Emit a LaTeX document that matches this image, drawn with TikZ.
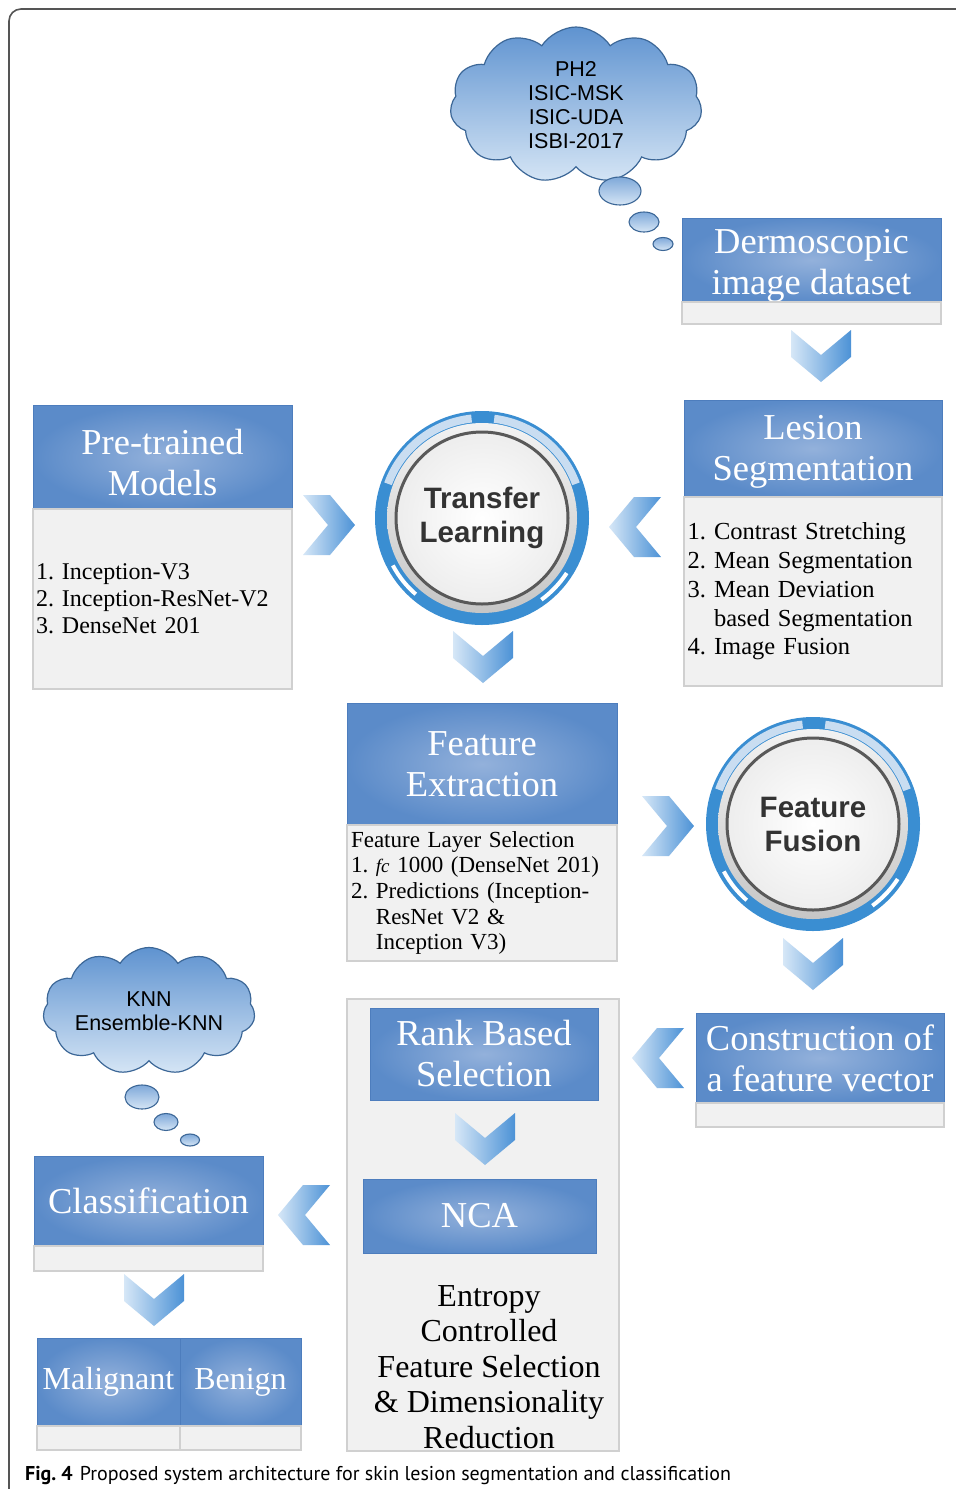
\documentclass[tikz,border=0pt]{standalone}
\usepackage{fontspec}
\setmainfont{Liberation Serif}
\setsansfont{Liberation Sans}
\newfontfamily\capfont{PT Sans}
\usetikzlibrary{positioning,shapes.symbols,calc}

\definecolor{hdrdark}{HTML}{5B8BC9}
\definecolor{hdrlight}{HTML}{93B1DB}
\definecolor{hdrline}{HTML}{4D7DBD}
\definecolor{bodyfill}{HTML}{F1F1F1}
\definecolor{bodyline}{HTML}{D0D0D0}
\definecolor{chlight}{HTML}{D6E7F7}
\definecolor{chdark}{HTML}{4C92D6}
\definecolor{ringblue}{HTML}{3A8ED2}
\definecolor{ringlight}{HTML}{C9DDF1}
\definecolor{cloudtop}{HTML}{5F93D0}
\definecolor{cloudbot}{HTML}{D5E5F5}
\definecolor{cloudline}{HTML}{3C6797}
\definecolor{framecol}{HTML}{555555}
\definecolor{disctext}{HTML}{333333}

% extra height on a header's first line, to lower its text
\newcommand{\hdrpad}[1]{\rule{0pt}{#1}}

\tikzset{
  hdr/.style={rectangle, draw=hdrline, line width=0.8pt, inner color=hdrlight, outer color=hdrdark,
    text=white, align=center, inner xsep=2pt, inner ysep=0pt, outer sep=0pt, anchor=north west,
    font=\fontsize{36.5}{41}\selectfont},
  body/.style={rectangle, draw=bodyline, line width=1.5pt, fill=bodyfill, outer sep=0pt,
    anchor=north west, align=left, inner ysep=0pt},
  disctxt/.style={circle, minimum size=172pt, align=center, text=disctext,
    font=\sffamily\bfseries\fontsize{29.5}{34}\selectfont},
  cloudtxt/.style={align=center, text=black, font=\sffamily\fontsize{21.5}{24}\selectfont},
  thought/.style={cloud, cloud puffs=11, cloud puff arc=115, draw=cloudline, line width=1.2pt,
    top color=cloudtop, bottom color=cloudbot, inner sep=0pt},
  bubble/.style={draw=cloudline, line width=1.1pt, top color=cloudtop!80, bottom color=cloudbot},
  chevdown/.pic={
    \shade[left color=chlight, right color=chdark]
      (-30,-26) -- (0,-1) -- (30,-26) -- (30,1) -- (0,26) -- (-30,1) -- cycle;
  },
  disc/.pic={
    \begin{scope}[yscale=-1]
      \fill[ringblue] (0,0) circle[radius=107];
      \foreach \a/\b in {96/160, 20/83}
        \fill[ringlight] (\a:104) arc[start angle=\a, end angle=\b, radius=104]
          -- (\b:96) arc[start angle=\b, end angle=\a, radius=96] -- cycle;
      \foreach \a/\b in {208/229, 306/327}
        \fill[white] (\a:103) arc[start angle=\a, end angle=\b, radius=103]
          -- (\b:99) arc[start angle=\b, end angle=\a, radius=99] -- cycle;
      \shade[top color=gray!10, bottom color=gray!45] (0,0) circle[radius=95];
      \shade[draw=gray!70!black, line width=3pt, inner color=white, outer color=gray!14]
        (0,0) circle[radius=86];
    \end{scope}
  }
}

\begin{document}
\frenchspacing
\begin{tikzpicture}[x=1pt, y=-1pt]
  \useasboundingbox (0,0) rectangle (956,1489);
  \fill[white] (0,0) rectangle (956,1489);
  % frame
  \draw[framecol, line width=1.6pt, rounded corners=12pt] (980,9) -- (9,9) -- (9,1510);

  % data sets cloud
  \node[thought, minimum width=252pt, minimum height=156pt] (dsc) at (576,105) {};
  \node[cloudtxt] (dsct) at (dsc.center) {PH2\\ISIC-MSK\\ISIC-UDA\\ISBI-2017};
  \shade[bubble] (620,191) ellipse[x radius=21, y radius=14];
  \shade[bubble] (644,222) ellipse[x radius=15, y radius=10];
  \shade[bubble] (663,244) ellipse[x radius=10, y radius=6.5];

  % dataset
  \node[hdr, minimum width=259pt, minimum height=82pt] (dsh) at (682,218) {\hdrpad{35pt}Dermoscopic\\image dataset};
  \node[body, minimum width=259pt, minimum height=22pt] (dsb) at (dsh.south west) {};

  % lesion segmentation
  \node[hdr, minimum width=258pt, minimum height=97pt] (lsh) at (684,400) {\hdrpad{31pt}Lesion\\Segmentation};
  \node[body, minimum width=258pt, minimum height=189pt, text width=251pt, inner xsep=3.5pt,
    font=\fontsize{24.5}{28.8}\selectfont] (lsb) at (lsh.south west)
    {1. Contrast Stretching\\2. Mean Segmentation\\3. Mean Deviation\\\phantom{3. }based Segmentation\\4. Image Fusion};

  % pre-trained models
  \node[hdr, minimum width=259pt, minimum height=104pt] (pmh) at (33,405) {\hdrpad{37pt}Pre-trained\\Models};
  \node[body, minimum width=259pt, minimum height=180pt, text width=253pt, inner xsep=3pt,
    font=\fontsize{24}{27}\selectfont] (pmb) at (pmh.south west)
    {1. Inception-V3\\2. Inception-ResNet-V2\\3. DenseNet 201};

  % transfer learning
  \pic at (482,518) {disc};
  \node[disctxt] (tl) at (482,518) {Transfer\\Learning};

  % feature extraction
  \node[hdr, minimum width=270pt, minimum height=122pt] (feh) at (347,703) {Feature\\Extraction};
  \node[body, minimum width=270pt, minimum height=136pt, text width=262pt, inner xsep=4pt,
    font=\fontsize{23}{25.7}\selectfont] (feb) at (feh.south west)
    {Feature Layer Selection\\1. \textit{\fontsize{19}{25.7}\selectfont fc} 1000 (DenseNet 201)\\2. Predictions (Inception-\\\phantom{2. }ResNet V2 \&\\\phantom{2. }Inception V3)};

  % feature fusion
  \pic at (813,824) {disc};
  \node[disctxt] (ff) at (813,824) {Feature\\Fusion};

  % feature vector
  \node[hdr, minimum width=248pt, minimum height=90pt] (cfh) at (696,1013) {Construction of\\a feature vector};
  \node[body, minimum width=248pt, minimum height=24pt] (cfb) at (cfh.south west) {};

  % selection block
  \node[body, minimum width=272pt, minimum height=452pt] (sel) at (347,999) {};
  \node[hdr, minimum width=228pt, minimum height=92pt] (rbh) at (370,1008) {Rank Based\\Selection};
  \node[hdr, minimum width=233pt, minimum height=74pt] (nca) at (363,1179) {NCA};
  \node[align=center, font=\fontsize{32}{35.5}\selectfont] (ent) at (489,1367)
    {Entropy\\Controlled\\Feature Selection\\\& Dimensionality\\Reduction};

  % classifier cloud
  \node[thought, minimum width=212pt, minimum height=127pt] (knc) at (149,1011) {};
  \node[cloudtxt] (knct) at (knc.center) {KNN\\Ensemble-KNN};
  \shade[bubble] (142,1097) ellipse[x radius=17, y radius=12];
  \shade[bubble] (166,1122) ellipse[x radius=12, y radius=8.5];
  \shade[bubble] (190,1140) ellipse[x radius=9.5, y radius=6];

  % classification
  \node[hdr, minimum width=229pt, minimum height=90pt] (clh) at (34,1156) {Classification};
  \node[body, minimum width=229pt, minimum height=25pt] (clb) at (clh.south west) {};
  \node[hdr, minimum width=143pt, minimum height=88pt, font=\fontsize{32}{36}\selectfont] (mah) at (37,1338) {Malignant};
  \node[body, minimum width=143pt, minimum height=24pt] (mab) at (mah.south west) {};
  \node[hdr, minimum width=121pt, minimum height=88pt, font=\fontsize{32}{36}\selectfont] (beh) at (mah.north east) {Benign};
  \node[body, minimum width=121pt, minimum height=24pt] (beb) at (beh.south west) {};

  % chevrons
  \pic at (821,356) {chevdown};
  \pic[rotate=90] at (329,525) {chevdown};
  \pic[rotate=-90] at (635,527) {chevdown};
  \pic at (483,657) {chevdown};
  \pic[rotate=90] at (668,826) {chevdown};
  \pic at (813,964) {chevdown};
  \pic[rotate=-90] at (658,1058) {chevdown};
  \pic at (485,1139) {chevdown};
  \pic[rotate=-90] at (304,1215) {chevdown};
  \pic at (154,1300) {chevdown};

  % caption
  \node[anchor=base west, inner sep=0pt, font=\capfont\fontsize{20}{24}\selectfont] (cap) at (25,1480)
    {\textbf{Fig. 4}\hspace{7pt}Proposed system architecture for skin lesion segmentation and classification};
\end{tikzpicture}
\end{document}
